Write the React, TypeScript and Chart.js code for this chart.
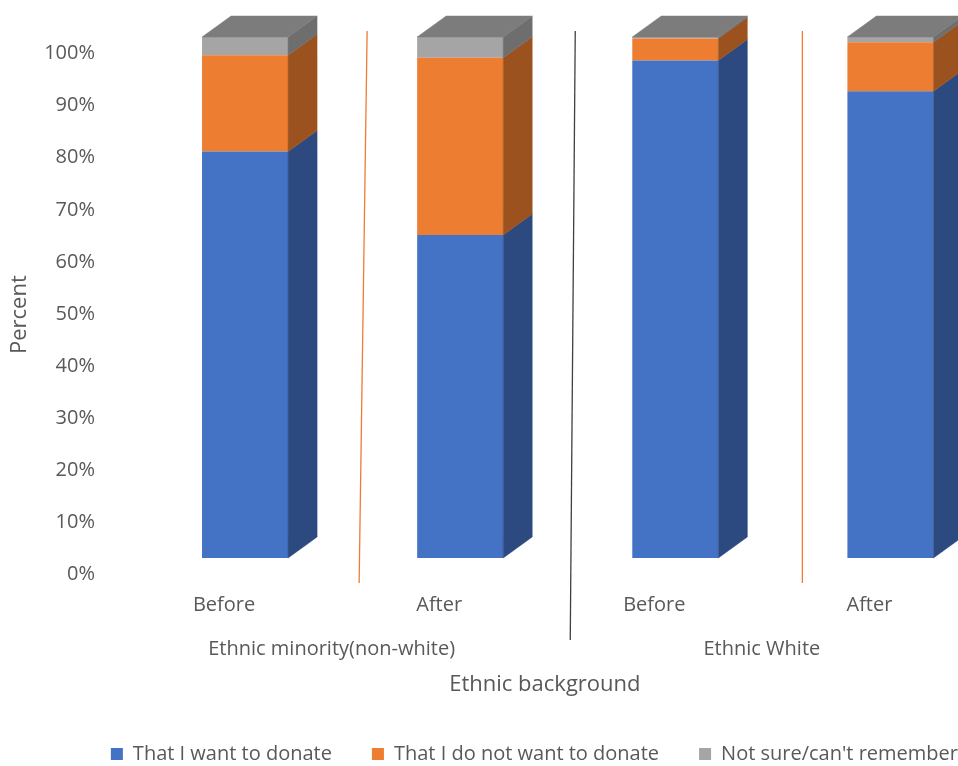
import React, { useEffect, useRef } from "react";
import { Chart, registerables } from "chart.js";

Chart.register(...registerables);

// ---- data ----
const categories = ["Before", "After", "Before", "After"];
const groups = ["Ethnic minority(non-white)", "Ethnic White"];
const wantToDonate = [78, 62, 95.5, 89.6];
const notWantToDonate = [18.5, 34, 4.2, 9.4];
const notSure = [3.5, 4, 0.3, 1];
const seriesNames = ["That I want to donate", "That I do not want to donate", "Not sure/can't remember"];
const yMin = 0;
const yMax = 100;
const yStep = 10;

// ---- styles ----
const frontColors = ["#4472C4", "#ED7D31", "#A5A5A5"];
const sideColors = ["#2C4A80", "#9C521E", "#6E6E6E"];
const topColors = ["#3A5FA6", "#B8622A", "#7C7C7C"];
const DX = 29;
const DY = 21;
const TEXT = "#595959";
const FONT = "'Open Sans', 'Noto Sans', sans-serif";

const depthPlugin = {
  id: "depth3d",
  afterDatasetsDraw(chart: any) {
    const ctx = chart.ctx;
    const n = chart.data.labels.length;
    ctx.save();
    for (let i = 0; i < n; i++) {
      let topEl: any = null;
      let topIdx = -1;
      chart.data.datasets.forEach((ds: any, d: number) => {
        const meta = chart.getDatasetMeta(d);
        const el = meta.data[i];
        const v = ds.data[i];
        if (!el || !v) return;
        const { x, y, base, width } = el.getProps(["x", "y", "base", "width"], true);
        const r = x + width / 2;
        const t = Math.min(y, base);
        const b = Math.max(y, base);
        ctx.fillStyle = sideColors[d];
        ctx.strokeStyle = sideColors[d];
        ctx.lineWidth = 0.5;
        ctx.beginPath();
        ctx.moveTo(r, b);
        ctx.lineTo(r + DX, b - DY);
        ctx.lineTo(r + DX, t - DY);
        ctx.lineTo(r, t);
        ctx.closePath();
        ctx.fill();
        ctx.stroke();
        topEl = { x, t, width };
        topIdx = d;
      });
      if (topEl) {
        const l = topEl.x - topEl.width / 2;
        const r = topEl.x + topEl.width / 2;
        const t = topEl.t;
        ctx.fillStyle = topColors[topIdx];
        ctx.strokeStyle = topColors[topIdx];
        ctx.lineWidth = 0.5;
        ctx.beginPath();
        ctx.moveTo(l, t);
        ctx.lineTo(l + DX, t - DY);
        ctx.lineTo(r + DX, t - DY);
        ctx.lineTo(r, t);
        ctx.closePath();
        ctx.fill();
        ctx.stroke();
      }
    }
    // category dividers
    const xs = chart.scales.x;
    const area = chart.chartArea;
    const mid = (a: number, b: number) => (xs.getPixelForValue(a) + xs.getPixelForValue(b)) / 2;
    const lines = [
      { m: mid(0, 1), dt: 14.5, db: 6.5, bottom: area.bottom + 25, color: "#ED7D31" },
      { m: mid(1, 2), dt: 7.5, db: 2.5, bottom: area.bottom + 82, color: "#404040" },
      { m: mid(2, 3), dt: 19.5, db: 19.5, bottom: area.bottom + 25, color: "#ED7D31" },
    ];
    lines.forEach((ln) => {
      ctx.strokeStyle = ln.color;
      ctx.lineWidth = 1.3;
      ctx.beginPath();
      ctx.moveTo(ln.m + ln.dt, area.top - 6);
      ctx.lineTo(ln.m + ln.db, ln.bottom);
      ctx.stroke();
    });
    ctx.restore();
  },
};

const noPad = (scale: any) => {
  scale.paddingTop = 0;
  scale.paddingBottom = 0;
  scale.paddingLeft = 0;
  scale.paddingRight = 0;
};

export default function App() {
  const ref = useRef<HTMLCanvasElement | null>(null);

  useEffect(() => {
    if (!ref.current) return;
    const chart = new Chart(ref.current, {
      type: "bar",
      data: {
        labels: categories,
        datasets: [
          { label: seriesNames[0], data: wantToDonate, backgroundColor: frontColors[0] },
          { label: seriesNames[1], data: notWantToDonate, backgroundColor: frontColors[1] },
          { label: seriesNames[2], data: notSure, backgroundColor: frontColors[2] },
        ],
      },
      options: {
        animation: false,
        responsive: false,
        font: { family: FONT, size: 20 },
        layout: { padding: { top: 37, left: 0, right: 0, bottom: 0 } },
        datasets: {
          bar: { barPercentage: 1, categoryPercentage: 0.4, borderWidth: 0, inflateAmount: 0 },
        },
        plugins: {
          legend: {
            position: "bottom",
            align: "end",
            labels: {
              boxWidth: 12,
              boxHeight: 12,
              padding: 40,
              color: TEXT,
              font: { family: FONT, size: 20 },
            },
          },
          tooltip: { enabled: false },
        },
        scales: {
          x: {
            type: "category",
            position: "bottom",
            weight: 1,
            stacked: true,
            offset: true,
            grid: { display: false, drawTicks: false },
            border: { display: false },
            afterFit: (scale: any) => {
              scale.height = 59;
              noPad(scale);
            },
            ticks: { color: TEXT, font: { family: FONT, size: 20 }, padding: 35, labelOffset: -21, maxRotation: 0 },
          },
          x2: {
            type: "category",
            labels: groups,
            position: "bottom",
            weight: 2,
            offset: true,
            grid: { display: false, drawTicks: false },
            border: { display: false },
            afterFit: (scale: any) => {
              scale.height = 87;
              noPad(scale);
            },
            ticks: { color: TEXT, font: { family: FONT, size: 20 }, padding: 20, labelOffset: -21, maxRotation: 0 },
            title: {
              display: true,
              text: "Ethnic background        ",
              color: TEXT,
              font: { family: FONT, size: 22 },
              padding: { top: 12, bottom: 6 },
            },
          },
          y: {
            stacked: true,
            min: yMin,
            max: yMax,
            grid: { display: false, drawTicks: false },
            border: { display: false },
            afterFit: (scale: any) => {
              scale.width = 137.5;
              noPad(scale);
            },
            ticks: {
              stepSize: yStep,
              color: TEXT,
              font: { family: FONT, size: 20 },
              padding: 42.5,
              labelOffset: 16.5,
              callback: (v: any) => `${v}%`,
            },
            title: {
              display: true,
              text: "Percent      ",
              color: TEXT,
              font: { family: FONT, size: 22 },
              padding: { top: 7, bottom: 0 },
            },
          },
        },
      } as any,
      plugins: [depthPlugin],
    });
    return () => chart.destroy();
  }, []);

  return (
    <div
      style={{
        position: "fixed",
        left: 0,
        top: 0,
        width: 958,
        height: 766,
        overflow: "hidden",
        background: "#ffffff",
      }}
    >
      <canvas ref={ref} width={998} height={774} style={{ display: "block" }} />
    </div>
  );
}
